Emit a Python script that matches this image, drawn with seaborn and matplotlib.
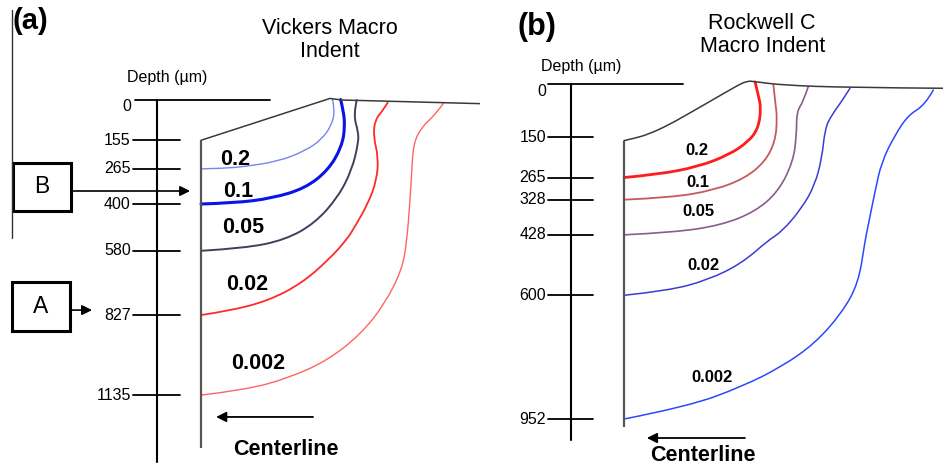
import matplotlib
matplotlib.use("Agg")
import matplotlib.pyplot as plt
from matplotlib.patches import Rectangle, PathPatch
from matplotlib.path import Path
import seaborn as sns

# ---------------- data (µm) ----------------
levels = ["0.2", "0.1", "0.05", "0.02", "0.002"]

# depth scale ticks
vickers_ticks = [0, 155, 265, 400, 580, 827, 1135]
rockwell_ticks = [0, 150, 265, 328, 428, 600, 952]

# contour traces: radial distance from centerline (r) and depth (d)
vickers_r = {
    "0.2": [505, 515, 503, 464, 400, 297, 169, 85, 0],
    "0.1": [537, 547, 554, 541, 490, 400, 272, 131, 0],
    "0.05": [599, 586, 605, 605, 580, 528, 438, 323, 169, 0],
    "0.02": [718, 701, 669, 663, 682, 676, 643, 592, 560, 490, 387, 259, 105, 0],
    "0.002": [932, 900, 849, 817, 810, 804, 791, 772, 708, 618, 490, 336, 169, 0],
}
vickers_d = {
    "0.2": [-5, 38, 96, 152, 196, 236, 256, 263, 265],
    "0.1": [-2, 38, 103, 180, 269, 340, 378, 396, 400],
    "0.05": [0, 58, 122, 167, 269, 372, 474, 538, 570, 580],
    "0.02": [10, 38, 77, 141, 218, 308, 397, 487, 538, 615, 705, 772, 812, 827],
    "0.002": [13, 58, 103, 167, 282, 385, 551, 654, 782, 897, 1000, 1070, 1115, 1135],
}
rockwell_r = {
    "0.2": [373, 382, 390, 382, 354, 297, 211, 98, 0],
    "0.1": [425, 430, 436, 430, 401, 344, 259, 136, 0],
    "0.05": [524, 510, 491, 491, 481, 439, 373, 278, 145, 0],
    "0.02": [643, 619, 591, 572, 563, 543, 506, 449, 411, 335, 240, 126, 0],
    "0.002": [880, 856, 809, 771, 733, 714, 695, 686, 667, 619, 543, 449, 335, 183, 0],
}
rockwell_d = {
    "0.2": [-7, 30, 68, 125, 163, 201, 234, 256, 265],
    "0.1": [0, 49, 96, 163, 220, 267, 300, 322, 328],
    "0.05": [7, 49, 78, 144, 220, 305, 362, 400, 421, 428],
    "0.02": [11, 49, 87, 125, 210, 286, 352, 419, 443, 509, 556, 587, 600],
    "0.002": [16, 59, 87, 144, 220, 305, 400, 443, 566, 651, 737, 803, 860, 916, 952],
}

# indented surface profiles
vickers_surface_r = [0, 496, 541, 1073]
vickers_surface_d = [155, -6, 0, 14]
rockwell_surface_r = [0, 31, 69, 126, 193, 259, 316, 349, 373, 448, 638, 908]
rockwell_surface_d = [160, 153, 142, 116, 78, 40, 7, -10, -8, 2, 9, 11]

# ---------------- styling ----------------
vickers_colors = ["#7585f2", "#0a14e6", "#4b3a5c", "#ff2a2a", "#ff6464"]
vickers_widths = [1.0, 2.2, 1.4, 1.3, 1.0]
rockwell_colors = ["#ff1c1c", "#c25c5c", "#8a5c8e", "#3c3cd2", "#2c48ff"]
rockwell_widths = [2.0, 1.3, 1.2, 1.1, 1.1]

sns.set_theme(style="white")
plt.rcParams["font.family"] = ["Liberation Sans", "DejaVu Sans"]
plt.rcParams["text.color"] = "black"

W, H, DPI = 943, 470, 100
fig = plt.figure(figsize=(W / DPI, H / DPI), dpi=DPI)
fig.patch.set_facecolor("white")

split = 480
ax_a = fig.add_axes([0, 0, split / W, 1])
ax_b = fig.add_axes([split / W, 0, (W - split) / W, 1])

# µm per pixel and the pixel location of (r=0, d=0) in each panel
um_a, x0_a, y0_a = 3.846, 201, 100
um_b, x0_b, y0_b = 2.845, 624 - split, 84.4

ax_a.set_xlim(-x0_a * um_a, (split - x0_a) * um_a)
ax_a.set_ylim((H - y0_a) * um_a, -y0_a * um_a)
ax_b.set_xlim(-x0_b * um_b, (W - split - x0_b) * um_b)
ax_b.set_ylim((H - y0_b) * um_b, -y0_b * um_b)


def smooth_trace(ax, r, d, color, lw):
    """Draw a traced line as a chain of quadratic Bezier pieces."""
    pts = list(zip(r, d))
    verts, codes = [pts[0]], [Path.MOVETO]
    for i in range(1, len(pts) - 1):
        if i == len(pts) - 2:
            end = pts[-1]
        else:
            end = ((pts[i][0] + pts[i + 1][0]) / 2, (pts[i][1] + pts[i + 1][1]) / 2)
        verts += [pts[i], end]
        codes += [Path.CURVE3, Path.CURVE3]
    ax.add_patch(PathPatch(Path(verts, codes), fill=False, edgecolor=color,
                           lw=lw, capstyle="round", joinstyle="round"))


def draw_panel(ax, ticks, rs, ds, colors, widths, surf_r, surf_d, lay):
    # contours
    for lev, c, lw in zip(levels, colors, widths):
        smooth_trace(ax, rs[lev], ds[lev], c, lw)
    # specimen surface
    if lay["smooth_surface"]:
        smooth_trace(ax, surf_r, surf_d, "#3a3a3a", 1.1)
    else:
        sns.lineplot(x=surf_r, y=surf_d, sort=False, estimator=None,
                     color="#3a3a3a", linewidth=1.1, ax=ax)
    # centerline
    ax.plot([0, 0], [surf_d[0], lay["center_bottom"]], color="#555555", lw=1.6,
            solid_capstyle="butt")
    # depth scale
    sns.lineplot(x=lay["zero_line"], y=[0, 0], color="black", linewidth=1.3,
                 estimator=None, ax=ax)
    sns.lineplot(x=[lay["axis_r"], lay["axis_r"]], y=[0, lay["axis_bottom"]],
                 sort=False, estimator=None, color="black", linewidth=1.5, ax=ax)
    for t in ticks[1:]:
        ax.plot(lay["tick_span"], [t, t], color="black", lw=1.3)
        ax.text(lay["tick_span"][0] - lay["pad"], t, str(t), ha="right",
                va="center", fontsize=11.5)
    ax.annotate("0", xy=(lay["tick_span"][0] - lay["pad"], 0), xytext=(0, -5),
                textcoords="offset points", ha="right", va="center",
                fontsize=11.5)
    ax.text(*lay["depth_label"], "Depth (µm)", ha="center", va="center",
            fontsize=11.5)
    # contour labels
    for lev, pos in zip(levels, lay["level_pos"]):
        ax.text(*pos, lev, ha="center", va="center", fontsize=lay["level_fs"],
                fontweight="bold")
    # titles
    ax.text(*lay["title_pos"], lay["title"], ha="center", va="center",
            fontsize=15.5, linespacing=1.15)
    ax.text(*lay["tag_pos"], lay["tag"], ha="center", va="center",
            fontsize=lay["tag_fs"], fontweight="bold")
    # centerline arrow and caption
    ax.annotate("", xy=(lay["cl_arrow"][1], lay["cl_arrow"][2]),
                xytext=(lay["cl_arrow"][0], lay["cl_arrow"][2]),
                arrowprops=dict(arrowstyle="-|>", color="black", lw=1.3,
                                mutation_scale=15, shrinkA=0, shrinkB=0))
    ax.text(*lay["cl_text"], "Centerline", ha="center", va="center",
            fontsize=15.5, fontweight="bold")
    ax.axis("off")


layout_a = dict(
    smooth_surface=False,
    center_bottom=1338, zero_line=[-254, 265], axis_r=-169, axis_bottom=1392,
    tick_span=[-262, -81], pad=8, depth_label=(-131, -88),
    level_pos=[(131, 227), (142, 350), (163, 492), (177, 708), (219, 1012)],
    level_fs=15.5, title="Vickers Macro\nIndent", title_pos=(496, -230),
    tag="(a)", tag_pos=(-658, -305), tag_fs=21,
    cl_arrow=(431, 58, 1219), cl_text=(327, 1346),
)
layout_b = dict(
    smooth_surface=True,
    center_bottom=975, zero_line=[-216, 168], axis_r=-151, axis_bottom=1012,
    tick_span=[-216, -88], pad=6, depth_label=(-122, -52),
    level_pos=[(208, 189), (211, 278), (211, 363), (225, 514), (250, 835)],
    level_fs=12, title="Rockwell C\nMacro Indent", title_pos=(393, -140),
    tag="(b)", tag_pos=(-248, -163), tag_fs=22,
    cl_arrow=(344, 65, 1006), cl_text=(225, 1057),
)

draw_panel(ax_a, vickers_ticks, vickers_r, vickers_d, vickers_colors,
           vickers_widths, vickers_surface_r, vickers_surface_d, layout_a)
draw_panel(ax_b, rockwell_ticks, rockwell_r, rockwell_d, rockwell_colors,
           rockwell_widths, rockwell_surface_r, rockwell_surface_d, layout_b)

# panel (a) frame line and the A / B location markers
ax_a.plot([-727, -727], [-346, 531], color="#333333", lw=1.0)
for letter, (r0, r1, d0, d1), arrow in [
    ("B", (-723, -500, 242, 427), (-500, -42, 350)),
    ("A", (-727, -504, 700, 888), (-504, -419, 808)),
]:
    ax_a.add_patch(Rectangle((r0, d0), r1 - r0, d1 - d0, fill=False,
                             edgecolor="black", lw=2.2))
    ax_a.text((r0 + r1) / 2, (d0 + d1) / 2, letter, ha="center", va="center",
              fontsize=16.5)
    ax_a.annotate("", xy=(arrow[1], arrow[2]), xytext=(arrow[0], arrow[2]),
                  arrowprops=dict(arrowstyle="-|>", color="black", lw=1.2,
                                  mutation_scale=15, shrinkA=0, shrinkB=0))

fig.savefig("out.png", dpi=DPI, facecolor="white")
